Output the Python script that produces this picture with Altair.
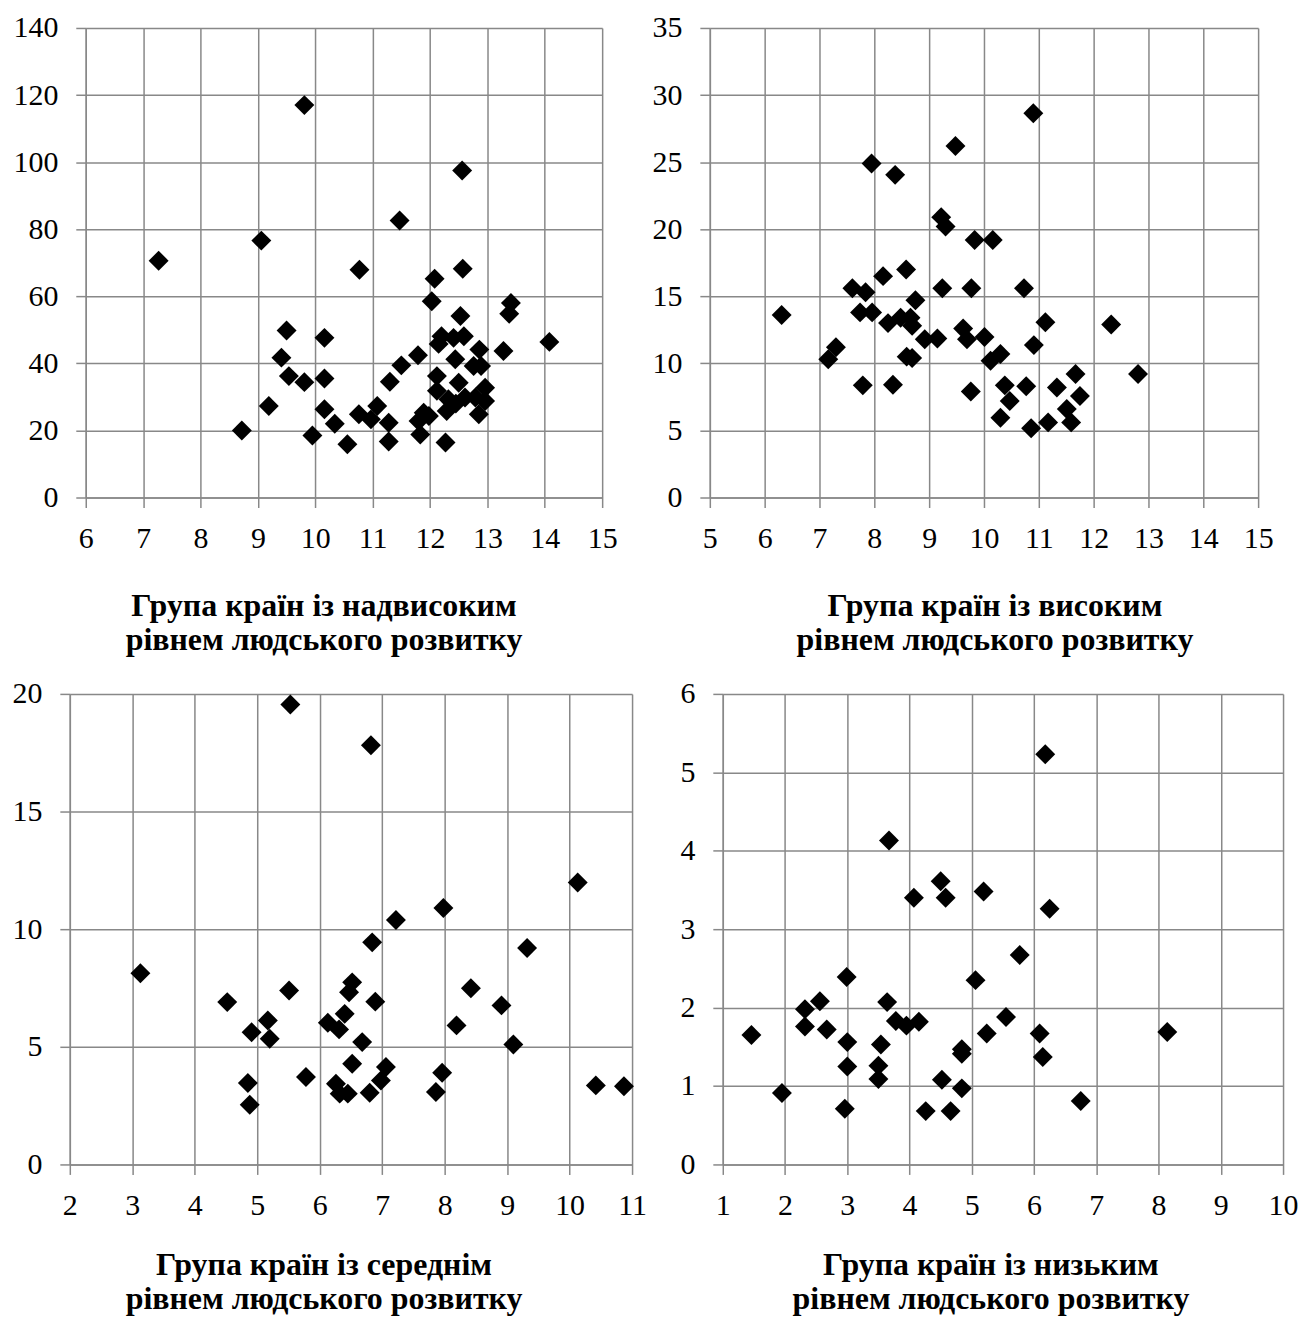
import altair as alt
import pandas as pd

# Panel 1: very high human development
p1_x = [7.27, 9.81, 9.06, 12.56, 11.47, 10.77, 12.57, 12.08, 12.03, 13.41, 13.38, 12.53,
        9.50, 10.16, 12.20, 12.41, 12.59, 12.15, 14.08, 9.41, 12.86, 13.28, 12.44, 11.79,
        12.76, 12.89, 11.50, 9.54, 9.81, 10.16, 11.30, 12.12, 12.50, 12.12, 12.32, 12.29,
        12.61, 12.96, 12.96, 12.85, 12.79, 9.19, 10.16, 10.34, 10.76, 11.08, 10.97, 11.28,
        8.72, 9.95, 10.56, 11.28, 11.89, 11.80, 11.98, 11.83, 12.27, 12.45]
p1_y = [70.6, 117.0, 76.6, 97.5, 82.6, 67.9, 68.2, 65.2, 58.5, 58.0, 54.8, 54.1,
        49.8, 47.6, 48.1, 47.6, 48.1, 45.8, 46.4, 41.7, 44.1, 43.7, 41.2, 42.4,
        39.2, 39.2, 39.4, 36.2, 34.4, 35.5, 34.5, 36.2, 34.2, 31.8, 29.3, 25.8,
        29.8, 32.7, 28.8, 24.8, 29.8, 27.3, 26.3, 22.0, 24.8, 27.3, 23.3, 22.3,
        20.0, 18.5, 15.9, 16.7, 25.3, 22.8, 24.3, 18.8, 16.4, 28.0]

# Panel 2: high human development
p2_x = [6.31, 7.16, 7.30, 7.60, 7.84, 7.74, 7.96, 7.79, 7.95, 8.38, 8.16, 8.58, 8.25,
        8.48, 8.66, 8.69, 8.75, 8.59, 8.69, 8.34, 8.92, 9.15, 9.48, 9.22, 9.30, 9.24,
        9.77, 9.62, 9.69, 9.76, 10.90, 9.83, 10.16, 10.73, 10.01, 11.12, 12.32, 10.91,
        10.30, 10.12, 12.81, 11.67, 10.38, 10.47, 10.30, 10.77, 11.33, 11.75, 11.51,
        11.59, 11.17, 10.86]
p2_y = [13.6, 10.3, 11.2, 15.6, 15.3, 13.8, 13.8, 8.36, 24.9, 24.05, 16.5, 17.0, 13.0,
        13.4, 13.4, 12.8, 14.7, 10.5, 10.4, 8.4, 11.8, 11.85, 26.2, 20.9, 20.2, 15.6,
        15.6, 12.6, 11.8, 7.9, 28.65, 19.2, 19.2, 15.6, 11.96, 13.07, 12.9, 11.36,
        10.7, 10.2, 9.2, 9.2, 8.36, 7.2, 5.95, 8.3, 8.2, 7.57, 6.6,
        5.6, 5.6, 5.16]

# Panel 3: medium human development
p3_x = [5.53, 3.13, 4.52, 5.51, 4.91, 5.17, 5.20, 4.85, 4.88, 5.78, 6.13, 6.31, 6.40,
        6.52, 6.47, 6.52, 6.26, 6.32, 6.45, 6.82, 10.13, 7.98, 7.22, 6.84, 9.32, 8.42,
        6.89, 8.91, 8.19, 6.68, 9.10, 7.06, 6.98, 7.96, 7.86, 6.80, 10.42, 10.87]
p3_y = [19.55, 8.13, 6.9, 7.39, 5.62, 6.12, 5.34, 3.46, 2.54, 3.72, 6.02, 5.74, 6.40,
        7.74, 7.32, 4.28, 3.43, 3.01, 3.01, 17.82, 11.98, 10.9, 10.39, 9.44, 9.2, 7.49,
        6.92, 6.76, 5.91, 5.2, 5.1, 4.14, 3.57, 3.9, 3.08, 3.05, 3.36, 3.32]

# Panel 4: low human development
p4_x = [1.46, 1.95, 2.32, 2.32, 2.56, 2.67, 2.99, 3.00, 3.00, 2.96, 3.67, 3.64, 3.54,
        3.50, 3.50, 3.78, 3.95, 4.15, 4.07, 4.50, 4.58, 5.19, 5.06, 4.84, 4.84, 4.52,
        4.84, 4.26, 4.66, 5.24, 5.55, 5.77, 6.18, 6.25, 6.09, 6.14, 6.75, 8.14]
p4_y = [1.65, 0.91, 1.98, 1.76, 2.08, 1.72, 2.39, 1.56, 1.25, 0.71, 4.13, 2.07, 1.53,
        1.26, 1.09, 1.83, 1.77, 1.82, 3.40, 3.61, 3.40, 3.48, 2.35, 1.47, 1.41, 1.08,
        0.97, 0.68, 0.68, 1.67, 1.88, 2.67, 5.23, 3.26, 1.67, 1.37, 0.81, 1.69]

titles = [
    ["Група країн із надвисоким", "рівнем людського розвитку"],
    ["Група країн із високим", "рівнем людського розвитку"],
    ["Група країн із середнім", "рівнем людського розвитку"],
    ["Група країн із низьким", "рівнем людського розвитку"],
]

SERIF = "Liberation Serif"
GRID = "#888888"


def panel(xs, ys, xdom, xvals, ydom, yvals, w, h, title, dx, toff):
    df = pd.DataFrame({"x": xs, "y": ys})
    common = dict(title=None, labelFlush=False, labelOverlap=False,
                  labelFont=SERIF, labelFontSize=30, labelColor="black",
                  gridColor=GRID, gridWidth=1.5, gridOpacity=1,
                  domainColor=GRID, domainWidth=1.5,
                  tickColor=GRID, tickWidth=1.5, tickSize=10)
    return (
        alt.Chart(df)
        .mark_point(shape="diamond", filled=True, color="black", size=400, opacity=1)
        .encode(
            x=alt.X("x:Q", scale=alt.Scale(domain=xdom, nice=False, zero=False),
                    axis=alt.Axis(values=xvals, labelPadding=16, **common)),
            y=alt.Y("y:Q", scale=alt.Scale(domain=ydom, nice=False, zero=False),
                    axis=alt.Axis(values=yvals, labelPadding=18, **common)),
        )
        .properties(
            width=w, height=h,
            title=alt.TitleParams(text=title, orient="bottom", anchor="middle", dx=dx,
                                  offset=toff, font=SERIF, fontSize=32, fontWeight="bold",
                                  lineHeight=34, color="black"),
        )
    )


c1 = panel(p1_x, p1_y, [6, 15], list(range(6, 16)), [0, 140], list(range(0, 141, 20)),
           518, 471, titles[0], -20, 38)
c2 = panel(p2_x, p2_y, [5, 15], list(range(5, 16)), [0, 35], list(range(0, 36, 5)),
           550, 471, titles[1], 11, 38)
c3 = panel(p3_x, p3_y, [2, 11], list(range(2, 12)), [0, 20], list(range(0, 21, 5)),
           564, 472, titles[2], -27, 30)
c4 = panel(p4_x, p4_y, [1, 10], list(range(1, 11)), [0, 6], list(range(0, 7)),
           562, 472, titles[3], -12, 30)

# invisible 1px spacer so that the top row can start a little to the right
spacer = (
    alt.Chart(pd.DataFrame({"a": [0]}))
    .mark_point(opacity=0)
    .encode(x=alt.value(0), y=alt.value(0))
    .properties(width=1, height=1)
)

top_row = alt.hconcat(spacer, alt.hconcat(c1, c2, spacing=35), spacing=-60)
bottom_row = alt.hconcat(c3, c4, spacing=33)

chart = (
    alt.vconcat(top_row, bottom_row, spacing=23)
    .properties(padding={"left": 4, "top": 3, "right": 0, "bottom": 0},
                background="white")
    .configure_view(strokeWidth=0)
)

chart.save("out.html", embed_options={"renderer": "svg", "actions": False})
